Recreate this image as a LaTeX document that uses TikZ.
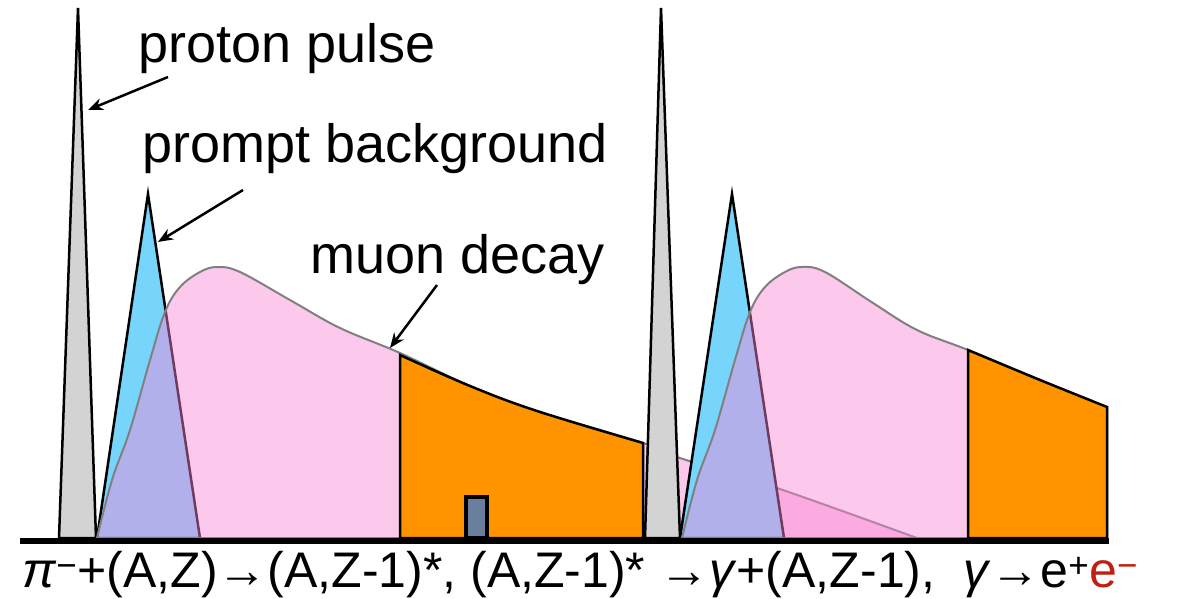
\documentclass[tikz,border=0pt]{standalone}
\usepackage{fontspec}
\setmainfont{Liberation Sans}
\usetikzlibrary{arrows.meta}

\definecolor{pulsegray}{HTML}{D3D3D3}
\definecolor{promptblue}{HTML}{77D5FC}
\definecolor{decaypink}{RGB}{249,133,213}
\definecolor{signalorange}{HTML}{FF9400}
\definecolor{slate}{HTML}{6A7F9E}
\definecolor{eminus}{HTML}{C0200F}

\begin{document}
\begin{tikzpicture}[
      x=1pt, y=-1pt,
      pulse/.style={draw=black, line width=2.5pt, fill=pulsegray},
      prompt/.style={draw=black, line width=2.5pt, fill=promptblue},
      decay/.style={draw=black!50, line width=2pt, fill=decaypink, fill opacity=0.45},
      window/.style={draw=black, line width=2.5pt, fill=signalorange},
      gate/.style={draw=black, line width=4pt, fill=slate},
      lbl/.style={font=\fontsize{54}{60}\selectfont, inner sep=0pt, anchor=base west},
      formula/.style={font=\fontsize{50}{54}\selectfont, inner sep=0pt, anchor=base west},
      arr/.style={-{Stealth[length=15pt,width=12pt]}, line width=2.5pt},
      >=Stealth
    ]
    \useasboundingbox (0,0) rectangle (1189,599);

    % first cycle
    \path[pulse] (59,538) -- (78,8) -- (96,538) -- cycle;
    \path[prompt] (97,538) -- (148,194) -- (200,538) -- cycle;
    \path[decay] plot[smooth, tension=0.6] coordinates {(97,538) (112,480) (130,430) (150,360)
      (165,312) (180,287) (200,272) (217,267) (240,272) (290,300) (340,328) (400,353)
      (470,386) (537,411) (643,443) (680,458) (777,488) (917,538)} -- cycle;
    \path[window] (400,538) -- plot[smooth, tension=0.6] coordinates {(400,355) (470,386)
      (537,411) (643,443)} -- (643,538) -- cycle;
    \path[gate] (466,497) rectangle (487,538);

    % second cycle
    \path[pulse] (645,538) -- (661,8) -- (680,538) -- cycle;
    \path[prompt] (680,538) -- (732,194) -- (784,538) -- cycle;
    \path[decay] plot[smooth, tension=0.6] coordinates {(682,538) (697,480) (715,430) (735,360)
      (750,312) (765,287) (785,272) (802,267) (825,272) (873,303) (917,330) (968,350)
      (1040,380) (1107,407)} -- (1107,538) -- cycle;
    \path[window] (968,538) -- plot[smooth, tension=0.6] coordinates {(968,350) (1040,380)
      (1107,407)} -- (1107,538) -- cycle;

    % time axis
    \coordinate (axisL) at (20,541);
    \coordinate (axisR) at (1109,541);
    \draw[line width=6pt] (axisL) -- (axisR);

    % labels
    \node[lbl] (pptext) at (138,63) {proton pulse};
    \node[lbl] (pbtext) at (142,163) {prompt background};
    \node[lbl] (mdtext) at (310,273) {muon decay};

    \coordinate (ppfrom) at (168,77);
    \coordinate (pptip) at (88,110);
    \coordinate (pbfrom) at (243,190);
    \coordinate (pbtip) at (158,242);
    \coordinate (mdfrom) at (437,285);
    \coordinate (mdtip) at (390,348);
    \draw[arr] (ppfrom) -- (pptip);
    \draw[arr] (pbfrom) -- (pbtip);
    \draw[arr] (mdfrom) -- (mdtip);

    \node[formula] (reaction) at (22,587)
      {\textit{π}\textsuperscript{−}+(A,Z)→(A,Z-1)*, (A,Z-1)* →\textit{γ}+(A,Z-1),\ \ \textit{γ}→e\textsuperscript{+}{\color{eminus}e\textsuperscript{−}}};
  \end{tikzpicture}
\end{document}
